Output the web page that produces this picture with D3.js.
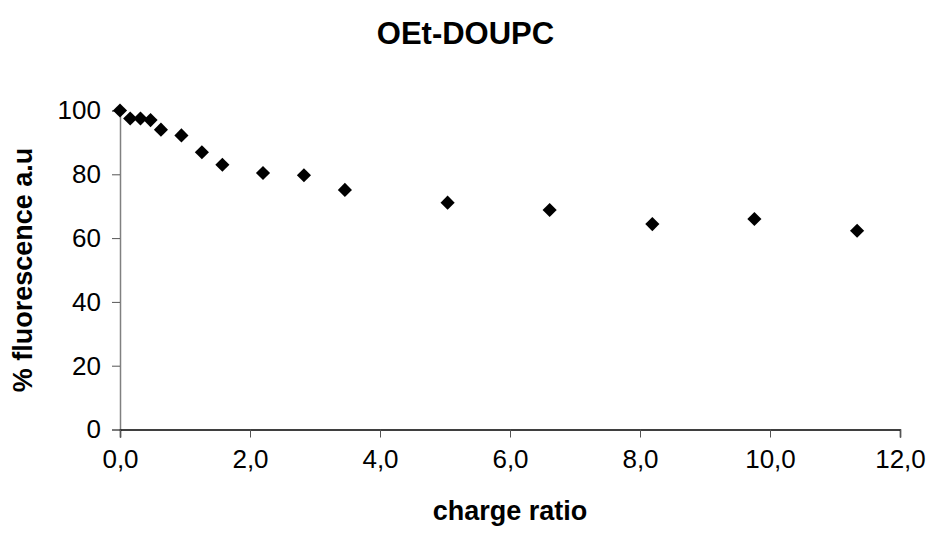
<!DOCTYPE html>
<html>
<head>
<meta charset="utf-8">
<script src="https://cdn.jsdelivr.net/npm/d3@7"></script>
<style>
  body { margin: 0; background: #fff; }
  text { font-family: "Liberation Sans", Arial, sans-serif; }
</style>
</head>
<body>
<div id="chart"></div>
<script>
// charge ratio values (x)
var chargeRatio = [0, 0.157, 0.315, 0.47, 0.63, 0.945, 1.26, 1.575, 2.2, 2.83, 3.46, 5.04, 6.61, 8.19, 9.76, 11.34];
// % fluorescence (y)
var fluorescence = [100, 97.5, 97.5, 97, 94, 92.2, 86.9, 83, 80.4, 79.7, 75.1, 71.1, 68.8, 64.4, 66.0, 62.3];
var xTicks = [0, 2, 4, 6, 8, 10, 12];
var yTicks = [0, 20, 40, 60, 80, 100];
var title = "OEt-DOUPC";
var xLabel = "charge ratio";
var yLabel = "% fluorescence a.u";

var width = 931,
    height = 533;
var margin = {left: 120, right: 31, top: 110.5, bottom: 103.5};

var svg = d3.select("#chart").append("svg")
    .attr("width", width)
    .attr("height", height);

//scales
var x = d3.scaleLinear().domain([0, 12]).range([margin.left, width - margin.right]);
var y = d3.scaleLinear().domain([0, 100]).range([height - margin.bottom, margin.top]);

var fmt = function(d) { return d.toFixed(1).replace(".", ","); };

//y axis
var yAxis = svg.append("g")
    .attr("transform", "translate(" + margin.left + ",0)")
    .call(d3.axisLeft(y).tickValues(yTicks).tickSize(8).tickPadding(11));
yAxis.select(".domain").attr("stroke", "#808080").attr("stroke-width", 1.5);
yAxis.selectAll(".tick line").attr("stroke", "#555");
yAxis.selectAll(".tick text")
    .style("font-size", "26px")
    .attr("fill", "#000")
    .style("font-family", "Liberation Sans, Arial, sans-serif");

//x axis
var xAxis = svg.append("g")
    .attr("transform", "translate(0," + y(0) + ")")
    .call(d3.axisBottom(x).tickValues(xTicks).tickFormat(fmt).tickSizeInner(8).tickSizeOuter(8).tickPadding(12));
xAxis.select(".domain").attr("stroke", "#000").attr("stroke-width", 1.5);
xAxis.selectAll(".tick line").attr("stroke", "#555");
xAxis.selectAll(".tick text")
    .style("font-size", "26px")
    .attr("fill", "#000")
    .style("font-family", "Liberation Sans, Arial, sans-serif");

//points
var data = chargeRatio.map(function(d, i) { return {x: d, y: fluorescence[i]}; });
var diamond = d3.symbol().type(d3.symbolSquare).size(100);
svg.append("g").selectAll("path")
    .data(data)
    .enter().append("path")
    .attr("d", diamond)
    .attr("transform", function(d) {
        return "translate(" + x(d.x) + "," + y(d.y) + ") rotate(45)";
    })
    .attr("fill", "#000");

//titles
svg.append("text")
    .attr("x", width / 2)
    .attr("y", 44)
    .attr("text-anchor", "middle")
    .style("font-size", "31px")
    .style("font-weight", "bold")
    .text(title);

svg.append("text")
    .attr("x", (x(0) + x(12)) / 2)
    .attr("y", 520)
    .attr("text-anchor", "middle")
    .style("font-size", "27px")
    .style("font-weight", "bold")
    .text(xLabel);

svg.append("text")
    .attr("transform", "translate(32," + (y(0) + y(100)) / 2 + ") rotate(-90)")
    .attr("text-anchor", "middle")
    .style("font-size", "27px")
    .style("font-weight", "bold")
    .text(yLabel);
</script>
</body>
</html>
